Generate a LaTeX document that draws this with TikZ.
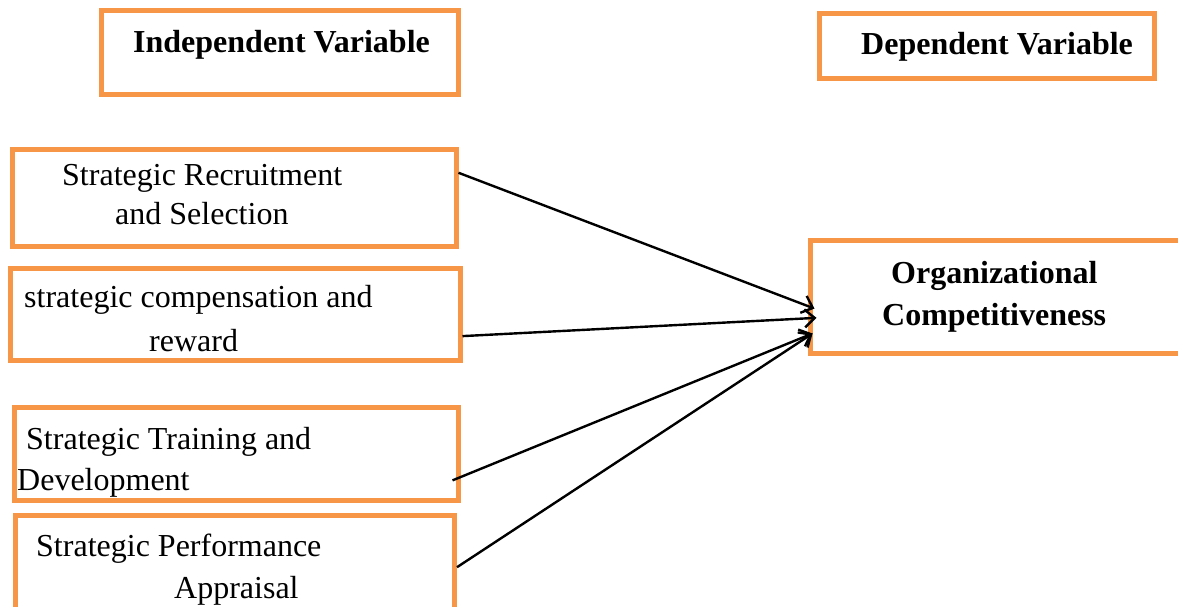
\documentclass[tikz,border=0pt]{standalone}
\usepackage{fontspec}
\setmainfont{Liberation Serif}
\usetikzlibrary{calc,arrows.meta}
\definecolor{boxorange}{HTML}{F79646}
\begin{document}
\begin{tikzpicture}[x=1pt,y=-1pt,
  box/.style={draw=boxorange,line width=5pt,rectangle,inner sep=0pt},
  txt/.style={anchor=base west,inner sep=0pt,font=\fontsize{32}{37}\selectfont},
  btxt/.style={txt,font=\fontsize{32}{37}\selectfont\bfseries},
  conn/.style={line width=2.4pt,-{Straight Barb[length=10pt,width=18pt,line width=2.4pt]}}]
\useasboundingbox (0,0) rectangle (1178,607);
\node[box,minimum width=357pt,minimum height=83.5pt] (indep) at (280,52.75) {};
\node[box,minimum width=335.5pt,minimum height=64.5pt] (dep) at (986.75,46.25) {};
\node[box,minimum width=444pt,minimum height=96.5pt] (b1) at (234,198.25) {};
\node[box,minimum width=450pt,minimum height=92pt] (b2) at (235,314) {};
\node[box,minimum width=443.5pt,minimum height=93pt] (b3) at (236.25,454) {};
\node[box,minimum width=439pt,minimum height=96.5pt] (b4) at (235,563.75) {};
\node[box,minimum width=375pt,minimum height=113.5pt] (org) at (997.5,296.75) {};

\node[btxt] (tindep) at (133,53) {Independent Variable};
\node[btxt] (tdep) at (861,55) {Dependent Variable};
\node[txt] (t1a) at (62,185) {Strategic Recruitment};
\node[txt] (t1b) at (115,224) {and Selection};
\node[txt] (t2a) at (24,307) {strategic compensation and};
\node[txt] (t2b) at (149,351) {reward};
\node[txt] (t3a) at (26,449) {Strategic Training and};
\node[txt] (t3b) at (17,490) {Development};
\node[txt] (t4a) at (36,556) {Strategic Performance};
\node[txt] (t4b) at (174,598) {Appraisal};
\node[btxt] (to1) at (891,283) {Organizational};
\node[btxt] (to2) at (882,325) {Competitiveness};

\draw[conn] ($(b1.north east)!0.249!(b1.south east)$) -- ([xshift=7pt]$(org.north west)!0.6!(org.south west)$);
\draw[conn] ($(b2.north east)!0.728!(b2.south east)$) -- ([xshift=9pt]$(org.north west)!0.678!(org.south west)$);
\draw[conn] ([xshift=-8pt]$(b3.north east)!0.769!(b3.south east)$) -- ([xshift=5pt]$(org.north west)!0.81!(org.south west)$);
\draw[conn] ($(b4.north east)!0.534!(b4.south east)$) -- ([xshift=5pt]$(org.north west)!0.81!(org.south west)$);
\end{tikzpicture}
\end{document}
